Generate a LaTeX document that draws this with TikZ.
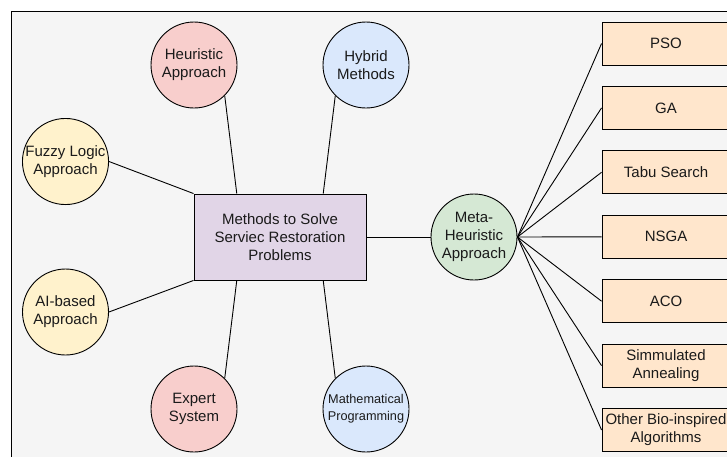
\documentclass[tikz,border=0pt]{standalone}
\usepackage{fontspec}
\setmainfont{Liberation Sans}
\usetikzlibrary{calc}
\definecolor{bgc}{HTML}{F5F5F5}
\definecolor{redf}{HTML}{F8CECC}
\definecolor{yelf}{HTML}{FFF2CC}
\definecolor{bluf}{HTML}{DAE8FC}
\definecolor{grnf}{HTML}{D5E8D4}
\definecolor{purf}{HTML}{E1D5E7}
\definecolor{orgf}{HTML}{FFE6CC}
\definecolor{txt}{HTML}{1A1A1A}
\tikzset{
  circnode/.style={circle, draw=black, line width=0.9pt, minimum size=86pt, inner sep=0pt, align=center, text=txt, font=\fontsize{15}{18}\selectfont},
  mainbox/.style={rectangle, draw=black, line width=0.9pt, fill=purf, minimum width=172pt, minimum height=86pt, align=center, text=txt, font=\fontsize{15}{18}\selectfont},
  algbox/.style={rectangle, draw=black, line width=0.9pt, fill=orgf, minimum width=128pt, minimum height=43pt, inner sep=0pt, align=center, text=txt, font=\fontsize{15}{18}\selectfont},
  link/.style={draw=black, line width=0.9pt}
}
\begin{document}
\begin{tikzpicture}[x=1pt,y=-1pt]
\useasboundingbox (0,0) rectangle (727,456);
\clip (0,0) rectangle (727,456);
\draw[fill=bgc, draw=black, line width=0.9pt] (11.5,11.5) rectangle (760,490);

\node[mainbox] (main) at (280,237) {Methods to Solve\\Serviec Restoration\\Problems};
\node[circnode, fill=redf] (heur) at (194,65) {Heuristic\\Approach};
\node[circnode, fill=bluf] (hyb) at (366,65) {Hybrid\\Methods};
\node[circnode, fill=yelf] (fuzzy) at (65.5,161.5) {Fuzzy Logic\\Approach};
\node[circnode, fill=yelf] (ai) at (65.5,312) {AI-based\\Approach};
\node[circnode, fill=redf] (exp) at (194,409) {Expert\\System};
\node[circnode, fill=bluf, font=\fontsize{12.7}{17}\selectfont] (math) at (366,409) {Mathematical\\Programming};
\node[circnode, fill=grnf] (meta) at (474,237) {Meta-\\Heuristic\\Approach};

\node[algbox] (pso) at (666,43.5) {PSO};
\node[algbox] (ga) at (666,107.9) {GA};
\node[algbox] (tabu) at (666,172.3) {Tabu Search};
\node[algbox] (nsga) at (666,236.8) {NSGA};
\node[algbox] (aco) at (666,301.2) {ACO};
\node[algbox] (sa) at (666,365.6) {Simmulated\\Annealing};
\node[algbox] (other) at (666,430) {Other Bio-inspired\\Algorithms};

\coordinate (tq1) at ($(main.north west)!0.25!(main.north east)$);
\coordinate (tq3) at ($(main.north west)!0.75!(main.north east)$);
\coordinate (bq1) at ($(main.south west)!0.25!(main.south east)$);
\coordinate (bq3) at ($(main.south west)!0.75!(main.south east)$);

\draw[link] (heur.south east) -- (tq1);
\draw[link] (hyb.south west) -- (tq3);
\draw[link] (fuzzy.east) -- (main.north west);
\draw[link] (ai.east) -- (main.south west);
\draw[link] (exp.north east) -- (bq1);
\draw[link] (math.north west) -- (bq3);
\draw[link] (main.east) -- (meta.west);
\foreach \b in {pso,ga,tabu,nsga,aco,sa,other}
  \draw[link] (meta.east) -- (\b.west);
\end{tikzpicture}
\end{document}
